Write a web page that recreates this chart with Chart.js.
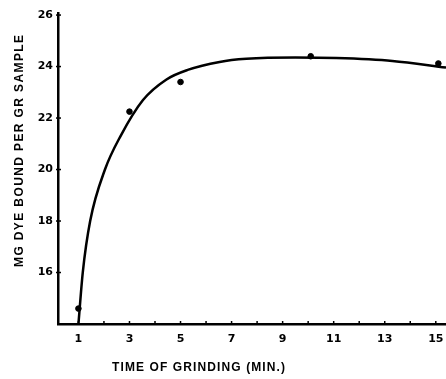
<!DOCTYPE html>
<html><head><meta charset="utf-8">
<script src="https://cdn.jsdelivr.net/npm/chart.js@4/dist/chart.umd.min.js"></script>
<style>html,body{margin:0;padding:0;background:#fff}#wrap{width:446px;height:379px}</style>
</head><body><div id="wrap"><canvas id="c" width="446" height="379"></canvas></div>
<script>
const measuredX = [1, 3, 5, 10.1, 15.1];
const measuredY = [14.6, 22.25, 23.4, 24.4, 24.12];
const curveX = [1.0, 1.17, 1.46, 2.04, 2.65, 3.53, 4.45, 5.28, 6.53, 7.58, 9.5, 11.1, 13.3, 15.4];
const curveY = [14.0, 16.0, 18.0, 20.0, 21.3, 22.7, 23.5, 23.87, 24.18, 24.3, 24.35, 24.33, 24.22, 23.96];
const xTicks = [1,2,3,4,5,6,7,8,9,10,11,12,13,14,15];
const yTicks = [16,18,20,22,24,26];
const xTitle = 'TIME OF GRINDING (MIN.)';
const yTitle = 'MG DYE BOUND PER GR SAMPLE';

const font = {family: '"DejaVu Sans", sans-serif', size: 11, weight: 'bold'};
const titleFontStr = 'bold 12px "Liberation Sans", Arial, sans-serif';

function spacedText(ctx, text, x, y, targetWidth) {
  ctx.font = titleFontStr;
  ctx.letterSpacing = '0px';
  const w = ctx.measureText(text).width;
  const sp = Math.max(0, (targetWidth - w) / (text.length - 1));
  ctx.letterSpacing = sp + 'px';
  ctx.textAlign = 'left';
  ctx.textBaseline = 'middle';
  ctx.fillText(text, x, y);
  ctx.letterSpacing = '0px';
}

const decorations = {
  id: 'decorations',
  afterDraw(chart) {
    const ctx = chart.ctx, xs = chart.scales.x, ys = chart.scales.y;
    ctx.save();
    ctx.strokeStyle = '#000'; ctx.lineWidth = 1.5;
    xTicks.forEach(v => {
      const px = xs.getPixelForValue(v);
      ctx.beginPath(); ctx.moveTo(px, ys.bottom); ctx.lineTo(px, ys.bottom - 3); ctx.stroke();
    });
    yTicks.forEach(v => {
      const py = ys.getPixelForValue(v);
      ctx.beginPath(); ctx.moveTo(xs.left - 2, py); ctx.lineTo(xs.left + 3, py); ctx.stroke();
    });
    ctx.fillStyle = '#000';
    spacedText(ctx, xTitle, 112, 368, 173);
    ctx.translate(20, 267);
    ctx.rotate(-Math.PI / 2);
    spacedText(ctx, yTitle, 0, 0, 232);
    ctx.restore();
  }
};

new Chart(document.getElementById('c'), {
  type: 'scatter',
  data: {
    datasets: [
      {
        data: curveX.map((x, i) => ({x, y: curveY[i]})),
        showLine: true, borderColor: '#000', borderWidth: 2.5,
        pointRadius: 0, cubicInterpolationMode: 'monotone', fill: false, clip: false
      },
      {
        data: measuredX.map((x, i) => ({x, y: measuredY[i]})),
        showLine: false, pointRadius: 2.8, pointBackgroundColor: '#000', pointBorderColor: '#000', clip: false
      }
    ]
  },
  options: {
    responsive: false, animation: false,
    layout: {autoPadding: false, padding: {top: 13, right: 0, left: 0, bottom: 0}},
    plugins: {legend: {display: false}, tooltip: {enabled: false}},
    scales: {
      x: {
        type: 'linear', min: 0.2, max: 15.4,
        afterBuildTicks: s => { s.ticks = xTicks.map(v => ({value: v})); },
        afterFit: s => { s.height = 55; s.paddingRight = 0; s.paddingLeft = 0; },
        ticks: {color: '#000', font: font, padding: 9, maxRotation: 0, autoSkip: false,
          callback: v => (v % 2 === 1 ? String(v) : '')},
        grid: {display: true, drawOnChartArea: false, drawTicks: false},
        border: {display: true, color: '#000', width: 2.5},
        title: {display: false}
      },
      y: {
        type: 'linear', min: 14, max: 26.08,
        afterBuildTicks: s => { s.ticks = yTicks.map(v => ({value: v})); },
        afterFit: s => { s.width = 58; s.paddingTop = 0; s.paddingBottom = 0; },
        ticks: {color: '#000', font: font, padding: 5, autoSkip: false},
        grid: {display: true, drawOnChartArea: false, drawTicks: false},
        border: {display: true, color: '#000', width: 2.5},
        title: {display: false}
      }
    }
  },
  plugins: [decorations]
});
</script></body></html>
